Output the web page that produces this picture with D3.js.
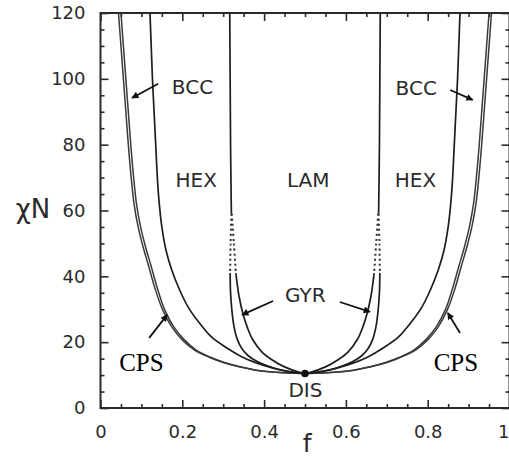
<!DOCTYPE html>
<html><head><meta charset="utf-8">
<script src="https://cdn.jsdelivr.net/npm/d3@7/dist/d3.min.js"></script>
<style>
html,body{margin:0;padding:0;background:#fff;}
svg{display:block;}
</style></head>
<body>
<svg id="chart" width="509" height="460"></svg>
<script>
// ---- data (f, chiN) ----
const fTicks = [0, 0.2, 0.4, 0.6, 0.8, 1];
const fTickLabels = ["0", "0.2", "0.4", "0.6", "0.8", "1"];
const fMinor = [0.05,0.1,0.15,0.25,0.3,0.35,0.45,0.5,0.55,0.65,0.7,0.75,0.85,0.9,0.95];
const chiTicks = [0, 20, 40, 60, 80, 100, 120];
const chiTickLabels = ["0", "20", "40", "60", "80", "100", "120"];
const chiMinor = [5,10,15,25,30,35,45,50,55,65,70,75,85,90,95,105,110,115];

const disLeft = [[0.044,120],[0.050,110],[0.056,100],[0.062,90],[0.068,80],[0.075,70],[0.082,62],[0.092,55],[0.104,49],[0.118,43],[0.134,36],[0.152,29.8],[0.175,24.5],[0.200,20.7],[0.230,17.6],[0.266,15.4],[0.300,13.8],[0.339,12.5],[0.380,11.5],[0.420,10.9],[0.460,10.6],[0.500,10.5]];
const disRight = [[0.956,120],[0.950,110],[0.944,100],[0.938,90],[0.932,80],[0.925,70],[0.918,62],[0.908,55],[0.896,49],[0.882,43],[0.866,36],[0.848,29.8],[0.825,24.5],[0.800,20.7],[0.770,17.6],[0.734,15.4],[0.700,13.8],[0.661,12.5],[0.620,11.5],[0.580,10.9],[0.540,10.6],[0.500,10.5]];
const cpsLeft = [[0.050,120],[0.056,110],[0.062,100],[0.068,90],[0.074,80],[0.081,70],[0.088,62],[0.098,55],[0.110,49],[0.124,43],[0.140,36],[0.157,29.8],[0.180,24.5],[0.205,20.7],[0.234,17.6],[0.269,15.4],[0.303,13.8],[0.341,12.5],[0.381,11.5],[0.420,10.9],[0.460,10.6],[0.500,10.5]];
const cpsRight = [[0.950,120],[0.944,110],[0.938,100],[0.932,90],[0.926,80],[0.919,70],[0.912,62],[0.902,55],[0.890,49],[0.876,43],[0.860,36],[0.843,29.8],[0.820,24.5],[0.795,20.7],[0.766,17.6],[0.731,15.4],[0.697,13.8],[0.659,12.5],[0.619,11.5],[0.580,10.9],[0.540,10.6],[0.500,10.5]];
const bccHexLeft = [[0.121,120],[0.124,110],[0.127,100],[0.131,90],[0.135,80],[0.139,70],[0.143,63],[0.150,55],[0.160,48],[0.174,42],[0.193,36],[0.215,30.5],[0.242,25.8],[0.272,21.5],[0.308,18.3],[0.345,15.6],[0.381,13.7],[0.420,12.2],[0.454,11.2],[0.480,10.7],[0.500,10.5]];
const bccHexRight = [[0.879,120],[0.876,110],[0.873,100],[0.869,90],[0.865,80],[0.861,70],[0.857,63],[0.850,55],[0.840,48],[0.826,42],[0.807,36],[0.785,30.5],[0.758,25.8],[0.728,21.5],[0.692,18.3],[0.655,15.6],[0.619,13.7],[0.580,12.2],[0.546,11.2],[0.520,10.7],[0.500,10.5]];
const hexLamLeft = [[0.316,120],[0.317,100],[0.318,80],[0.320,59]];
const hexLamRight = [[0.684,120],[0.683,100],[0.682,80],[0.680,59]];
const hexGyrDotLeft = [[0.320,59],[0.318,50],[0.317,41]];
const hexGyrDotRight = [[0.680,59],[0.682,50],[0.683,41]];
const gyrLamDotLeft = [[0.321,59],[0.326,50],[0.331,41]];
const gyrLamDotRight = [[0.679,59],[0.674,50],[0.669,41]];
const hexGyrLeft = [[0.317,41],[0.318,35],[0.321,30],[0.326,25],[0.334,21],[0.346,18],[0.362,15.8],[0.382,14.2],[0.406,12.9],[0.435,11.7],[0.469,10.9],[0.500,10.5]];
const hexGyrRight = [[0.683,41],[0.682,35],[0.679,30],[0.674,25],[0.666,21],[0.654,18],[0.638,15.8],[0.618,14.2],[0.594,12.9],[0.565,11.7],[0.531,10.9],[0.500,10.5]];
const gyrLamLeft = [[0.331,41],[0.335,37],[0.339,33.8],[0.348,28.8],[0.359,24.5],[0.372,20.8],[0.395,17],[0.420,14.6],[0.450,12.5],[0.485,10.9],[0.500,10.5]];
const gyrLamRight = [[0.669,41],[0.665,37],[0.661,33.8],[0.652,28.8],[0.641,24.5],[0.628,20.8],[0.605,17],[0.580,14.6],[0.550,12.5],[0.515,10.9],[0.500,10.5]];
const criticalPoint = [[0.5, 10.5]];

const phaseLabels = ["BCC", "BCC", "HEX", "LAM", "HEX", "GYR", "DIS"];
const phaseLabelF = [0.225, 0.772, 0.234, 0.508, 0.770, 0.501, 0.501];
const phaseLabelChi = [95.3, 95.1, 67.2, 67.2, 67.2, 32.2, 3.3];
const cpsLabels = ["CPS", "CPS"];
const cpsLabelF = [0.100, 0.869];
const cpsLabelChi = [11.3, 11.3];
// arrows: [fromF, fromChi, toF, toChi]
const arrows = [[0.141,98.5,0.077,94.2],[0.855,96.6,0.910,93.6],[0.422,32.5,0.346,28.3],[0.585,32.2,0.659,29.2],[0.119,21.3,0.163,28.3],[0.879,22.8,0.849,28.9]];

// ---- drawing ----
const svg = d3.select("#chart");
const pLeft = 100.5, pRight = 509.5, pTop = 13, pBottom = 408;
const x = d3.scaleLinear().domain([0, 1]).range([pLeft, pRight]);
const y = d3.scaleLinear().domain([0, 120]).range([pBottom, pTop]);
const axisColor = "#2a2a2a";
const font = "'DejaVu Sans', Verdana, sans-serif";

function styleAxis(g) {
  g.select(".domain").remove();
  g.selectAll(".tick line").attr("stroke", axisColor).attr("stroke-width", 1.6);
  g.selectAll(".tick text").attr("fill", "#2a2a2a").attr("font-family", font).attr("font-size", 18);
}
svg.append("g").attr("transform", `translate(0,${pBottom})`)
  .call(d3.axisBottom(x).tickValues(fTicks).tickSize(-8).tickPadding(17).tickFormat((d,i)=>fTickLabels[i]))
  .call(styleAxis)
  .call(g => g.selectAll(".tick text").filter(d => d === 1).attr("text-anchor", "end").attr("dx", -0.5));
svg.append("g").attr("transform", `translate(0,${pBottom})`)
  .call(d3.axisBottom(x).tickValues(fMinor).tickSize(-4).tickFormat(""))
  .call(styleAxis);
svg.append("g").attr("transform", `translate(0,${pTop})`)
  .call(d3.axisTop(x).tickValues(fTicks).tickSize(-8).tickFormat(""))
  .call(styleAxis);
svg.append("g").attr("transform", `translate(0,${pTop})`)
  .call(d3.axisTop(x).tickValues(fMinor).tickSize(-4).tickFormat(""))
  .call(styleAxis);
svg.append("g").attr("transform", `translate(${pLeft},0)`)
  .call(d3.axisLeft(y).tickValues(chiTicks).tickSize(-8).tickPadding(15).tickFormat((d,i)=>chiTickLabels[i]))
  .call(styleAxis);
svg.append("g").attr("transform", `translate(${pLeft},0)`)
  .call(d3.axisLeft(y).tickValues(chiMinor).tickSize(-4).tickFormat(""))
  .call(styleAxis);
svg.append("g").attr("transform", `translate(${pRight},0)`)
  .call(d3.axisRight(y).tickValues(chiTicks).tickSize(-8).tickFormat(""))
  .call(styleAxis);
svg.append("g").attr("transform", `translate(${pRight},0)`)
  .call(d3.axisRight(y).tickValues(chiMinor).tickSize(-4).tickFormat(""))
  .call(styleAxis);

svg.append("rect").attr("x", pLeft).attr("y", pTop).attr("width", pRight - pLeft).attr("height", pBottom - pTop)
  .attr("fill", "none").attr("stroke", axisColor).attr("stroke-width", 2);

svg.append("text").attr("x", x(0.505)).attr("y", 452).attr("text-anchor", "middle")
  .attr("font-family", font).attr("font-size", 25).attr("fill", "#2a2a2a").text("f");
svg.append("text").attr("x", 33).attr("y", 218).attr("text-anchor", "middle")
  .attr("font-family", font).attr("font-size", 26).attr("fill", "#2a2a2a").text("χN");

const line = d3.line().x(d => x(d[0])).y(d => y(d[1])).curve(d3.curveCatmullRom.alpha(0.5));
const solid = [bccHexLeft, bccHexRight, hexLamLeft, hexLamRight, hexGyrLeft, hexGyrRight, gyrLamLeft, gyrLamRight];
const outer = [disLeft, disRight, cpsLeft, cpsRight];
const dotted = [hexGyrDotLeft, hexGyrDotRight, gyrLamDotLeft, gyrLamDotRight];
svg.append("g").selectAll("path").data(outer).join("path")
  .attr("d", line).attr("fill", "none").attr("stroke", "#3a3a3a").attr("stroke-width", 1.5);
svg.append("g").selectAll("path").data(solid).join("path")
  .attr("d", line).attr("fill", "none").attr("stroke", "#1e1e1e").attr("stroke-width", 1.7);
svg.append("g").selectAll("path").data(dotted).join("path")
  .attr("d", line).attr("fill", "none").attr("stroke", "#333").attr("stroke-width", 2)
  .attr("stroke-dasharray", "2,3");
svg.append("g").selectAll("circle").data(criticalPoint).join("circle")
  .attr("cx", d => x(d[0])).attr("cy", d => y(d[1])).attr("r", 3.8).attr("fill", "#111");

svg.append("defs").append("marker").attr("id", "ah").attr("viewBox", "0 0 10 10")
  .attr("refX", 9).attr("refY", 5).attr("markerWidth", 9).attr("markerHeight", 7)
  .attr("markerUnits", "userSpaceOnUse").attr("orient", "auto")
  .append("path").attr("d", "M0,0 L10,5 L0,10 Z").attr("fill", "#111");
svg.append("g").selectAll("line").data(arrows).join("line")
  .attr("x1", d => x(d[0])).attr("y1", d => y(d[1]))
  .attr("x2", d => x(d[2])).attr("y2", d => y(d[3]))
  .attr("stroke", "#111").attr("stroke-width", 1.8).attr("marker-end", "url(#ah)");

svg.append("g").selectAll("text").data(phaseLabels).join("text")
  .attr("x", (d,i) => x(phaseLabelF[i])).attr("y", (d,i) => y(phaseLabelChi[i]))
  .attr("text-anchor", "middle").attr("font-family", font).attr("font-size", 20)
  .attr("fill", "#2a2a2a").text(d => d);
svg.append("g").selectAll("text").data(cpsLabels).join("text")
  .attr("x", (d,i) => x(cpsLabelF[i])).attr("y", (d,i) => y(cpsLabelChi[i]))
  .attr("text-anchor", "middle").attr("font-family", "'Liberation Serif', 'Times New Roman', serif")
  .attr("font-size", 25).attr("fill", "#000").text(d => d);
</script>
</body></html>
